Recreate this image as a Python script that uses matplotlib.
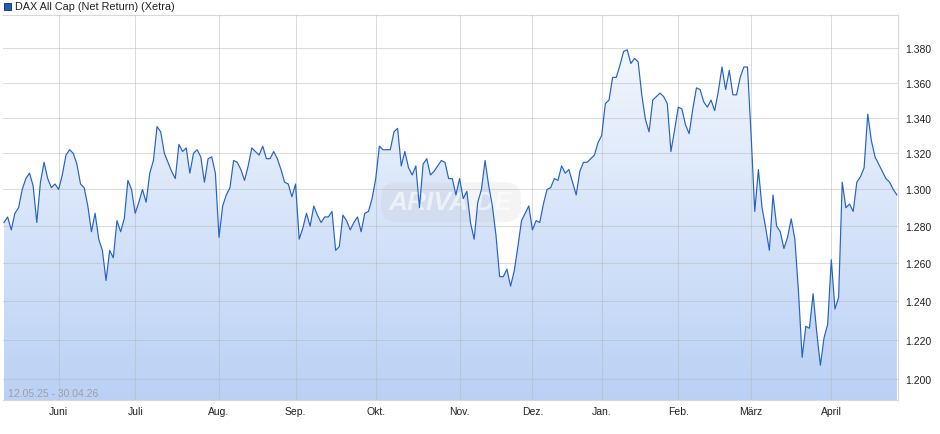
import numpy as np
import pandas as pd
import matplotlib
matplotlib.use("Agg")
import matplotlib.pyplot as plt
from matplotlib.ticker import FixedLocator, NullLocator, NullFormatter
from matplotlib.patches import Rectangle

plt.rcParams['font.family'] = ['Liberation Sans', 'DejaVu Sans']

title = "DAX All Cap (Net Return) (Xetra)"
date_range = "12.05.25 - 30.04.26"
holidays = ["2025-12-24", "2025-12-25", "2025-12-26", "2025-12-31",
            "2026-01-01", "2026-04-03", "2026-04-06"]
month_names = ["Juni", "Juli", "Aug.", "Sep.", "Okt.", "Nov.", "Dez.",
               "Jan.", "Feb.", "März", "April"]
y_ticks = [1.20, 1.22, 1.24, 1.26, 1.28, 1.30, 1.32, 1.34, 1.36, 1.38]

# daily closes
values = [
    1.282, 1.285, 1.278, 1.287, 1.290, 1.300, 1.306, 1.309, 1.302, 1.282,
    1.304, 1.315, 1.306, 1.301, 1.303, 1.300, 1.308, 1.319, 1.322, 1.320,
    1.314, 1.303, 1.301, 1.291, 1.277, 1.287, 1.273, 1.267, 1.251, 1.267,
    1.263, 1.283, 1.277, 1.284, 1.305, 1.300, 1.287, 1.293, 1.300, 1.293,
    1.309, 1.316, 1.335, 1.332, 1.320, 1.315, 1.310, 1.306, 1.325, 1.321,
    1.323, 1.309, 1.320, 1.322, 1.318, 1.304, 1.317, 1.318, 1.309, 1.274,
    1.291, 1.297, 1.301, 1.316, 1.315, 1.311, 1.305, 1.313, 1.323, 1.321,
    1.319, 1.324, 1.317, 1.317, 1.321, 1.317, 1.311, 1.304, 1.303, 1.296,
    1.303, 1.273, 1.279, 1.287, 1.280, 1.291, 1.286, 1.282, 1.285, 1.285,
    1.288, 1.267, 1.269, 1.286, 1.283, 1.278, 1.282, 1.285, 1.277, 1.287,
    1.288, 1.295, 1.306, 1.324, 1.322, 1.322, 1.322, 1.332, 1.334, 1.313,
    1.321, 1.312, 1.308, 1.313, 1.290, 1.314, 1.317, 1.308, 1.310, 1.313,
    1.316, 1.315, 1.306, 1.306, 1.297, 1.306, 1.295, 1.299, 1.282, 1.273,
    1.293, 1.300, 1.316, 1.302, 1.291, 1.275, 1.253, 1.253, 1.257, 1.248,
    1.256, 1.269, 1.283, 1.287, 1.291, 1.278, 1.283, 1.282, 1.292, 1.300,
    1.301, 1.306, 1.305, 1.313, 1.309, 1.311, 1.304, 1.297, 1.310, 1.315,
    1.315, 1.317, 1.319, 1.326, 1.330, 1.348, 1.350, 1.363, 1.363, 1.370,
    1.378, 1.379, 1.371, 1.374, 1.372, 1.353, 1.339, 1.332, 1.350, 1.352,
    1.354, 1.352, 1.348, 1.321, 1.333, 1.346, 1.345, 1.336, 1.331, 1.345,
    1.357, 1.356, 1.349, 1.346, 1.350, 1.344, 1.355, 1.369, 1.356, 1.367,
    1.353, 1.353, 1.363, 1.369, 1.369, 1.330, 1.288, 1.311, 1.290, 1.279,
    1.267, 1.297, 1.280, 1.277, 1.268, 1.274, 1.284, 1.273, 1.245, 1.211,
    1.227, 1.226, 1.244, 1.224, 1.207, 1.221, 1.228, 1.262, 1.236, 1.242,
    1.304, 1.290, 1.292, 1.288, 1.304, 1.307, 1.312, 1.342, 1.327, 1.318,
    1.314, 1.310, 1.306, 1.304, 1.300, 1.297,
]

dates = pd.bdate_range("2025-05-12", "2026-04-29")
dates = dates[~dates.isin(pd.to_datetime(holidays))]
x = np.arange(len(values))
months = dates.to_period("M")
month_starts = [i for i in range(1, len(dates)) if months[i] != months[i - 1]]

fig = plt.figure(figsize=(9.4, 4.35), dpi=100)
ax = fig.add_axes([3 / 940, 34 / 435, 895 / 940, 385 / 435])
ax.set_yscale("log")
ymin, ymax = 1.1894, 1.3994
xmin, xmax = -0.27, 245.3

# gradient fill under the line
fill = ax.fill_between(x, values, ymin, facecolor="none", edgecolor="none")
grad = np.linspace(0, 1, 256).reshape(-1, 1)
cmap = matplotlib.colors.LinearSegmentedColormap.from_list("g", ["#f7faff", "#bad1f5"])
im = ax.imshow(grad, cmap=cmap, extent=[0, 1, 0, 1], transform=ax.transAxes,
               aspect="auto", zorder=1, interpolation="bilinear")
im.set_clip_path(fill.get_paths()[0], transform=ax.transData)

ax.plot(x, values, color="#2462c6", lw=0.85, zorder=3)

ax.set_xlim(xmin, xmax)
ax.set_ylim(ymin, ymax)
ax.set_autoscale_on(False)

ax.yaxis.tick_right()
ax.yaxis.set_major_locator(FixedLocator(y_ticks))
ax.yaxis.set_minor_locator(NullLocator())
ax.yaxis.set_minor_formatter(NullFormatter())
ax.set_yticklabels([f"{v:.3f}" for v in y_ticks])
ax.set_xticks(month_starts)
ax.set_xticklabels(month_names)
ax.tick_params(axis="both", length=0, labelsize=7.5, colors="#222222")
ax.tick_params(axis="y", pad=5)
ax.tick_params(axis="x", pad=4)
ax.grid(True, color="#b8b8b8", alpha=0.5, lw=0.75, zorder=2)
ax.set_axisbelow(False)
for s in ax.spines.values():
    s.set_color("#d8d8d8")
    s.set_linewidth(0.8)
ax.spines["left"].set_visible(False)

# watermark
ax.text(0.5006, 0.514, "ARIVA.DE", transform=ax.transAxes, ha="center", va="center",
        fontsize=19, fontweight="bold", fontstyle="italic", color="white", alpha=0.6,
        zorder=2.5,
        bbox=dict(boxstyle="round,pad=0.3,rounding_size=0.6", fc="#b4b4b4",
                  ec="none", alpha=0.14))

ax.text(5 / 895, 7 / 385, date_range, transform=ax.transAxes, fontsize=7.5,
        color="#a0a0a0", ha="left", va="center", zorder=4)

# legend box
fig.patches.append(Rectangle((4 / 940, 1 - 11 / 435), 7 / 940, 7 / 435,
                             transform=fig.transFigure, facecolor="#1f5cbf",
                             edgecolor="#0d2a66", lw=0.6))
fig.text(15 / 940, 1 - 7 / 435, title, fontsize=7.8, color="#222222", va="center")

fig.savefig("out.png", dpi=100)
